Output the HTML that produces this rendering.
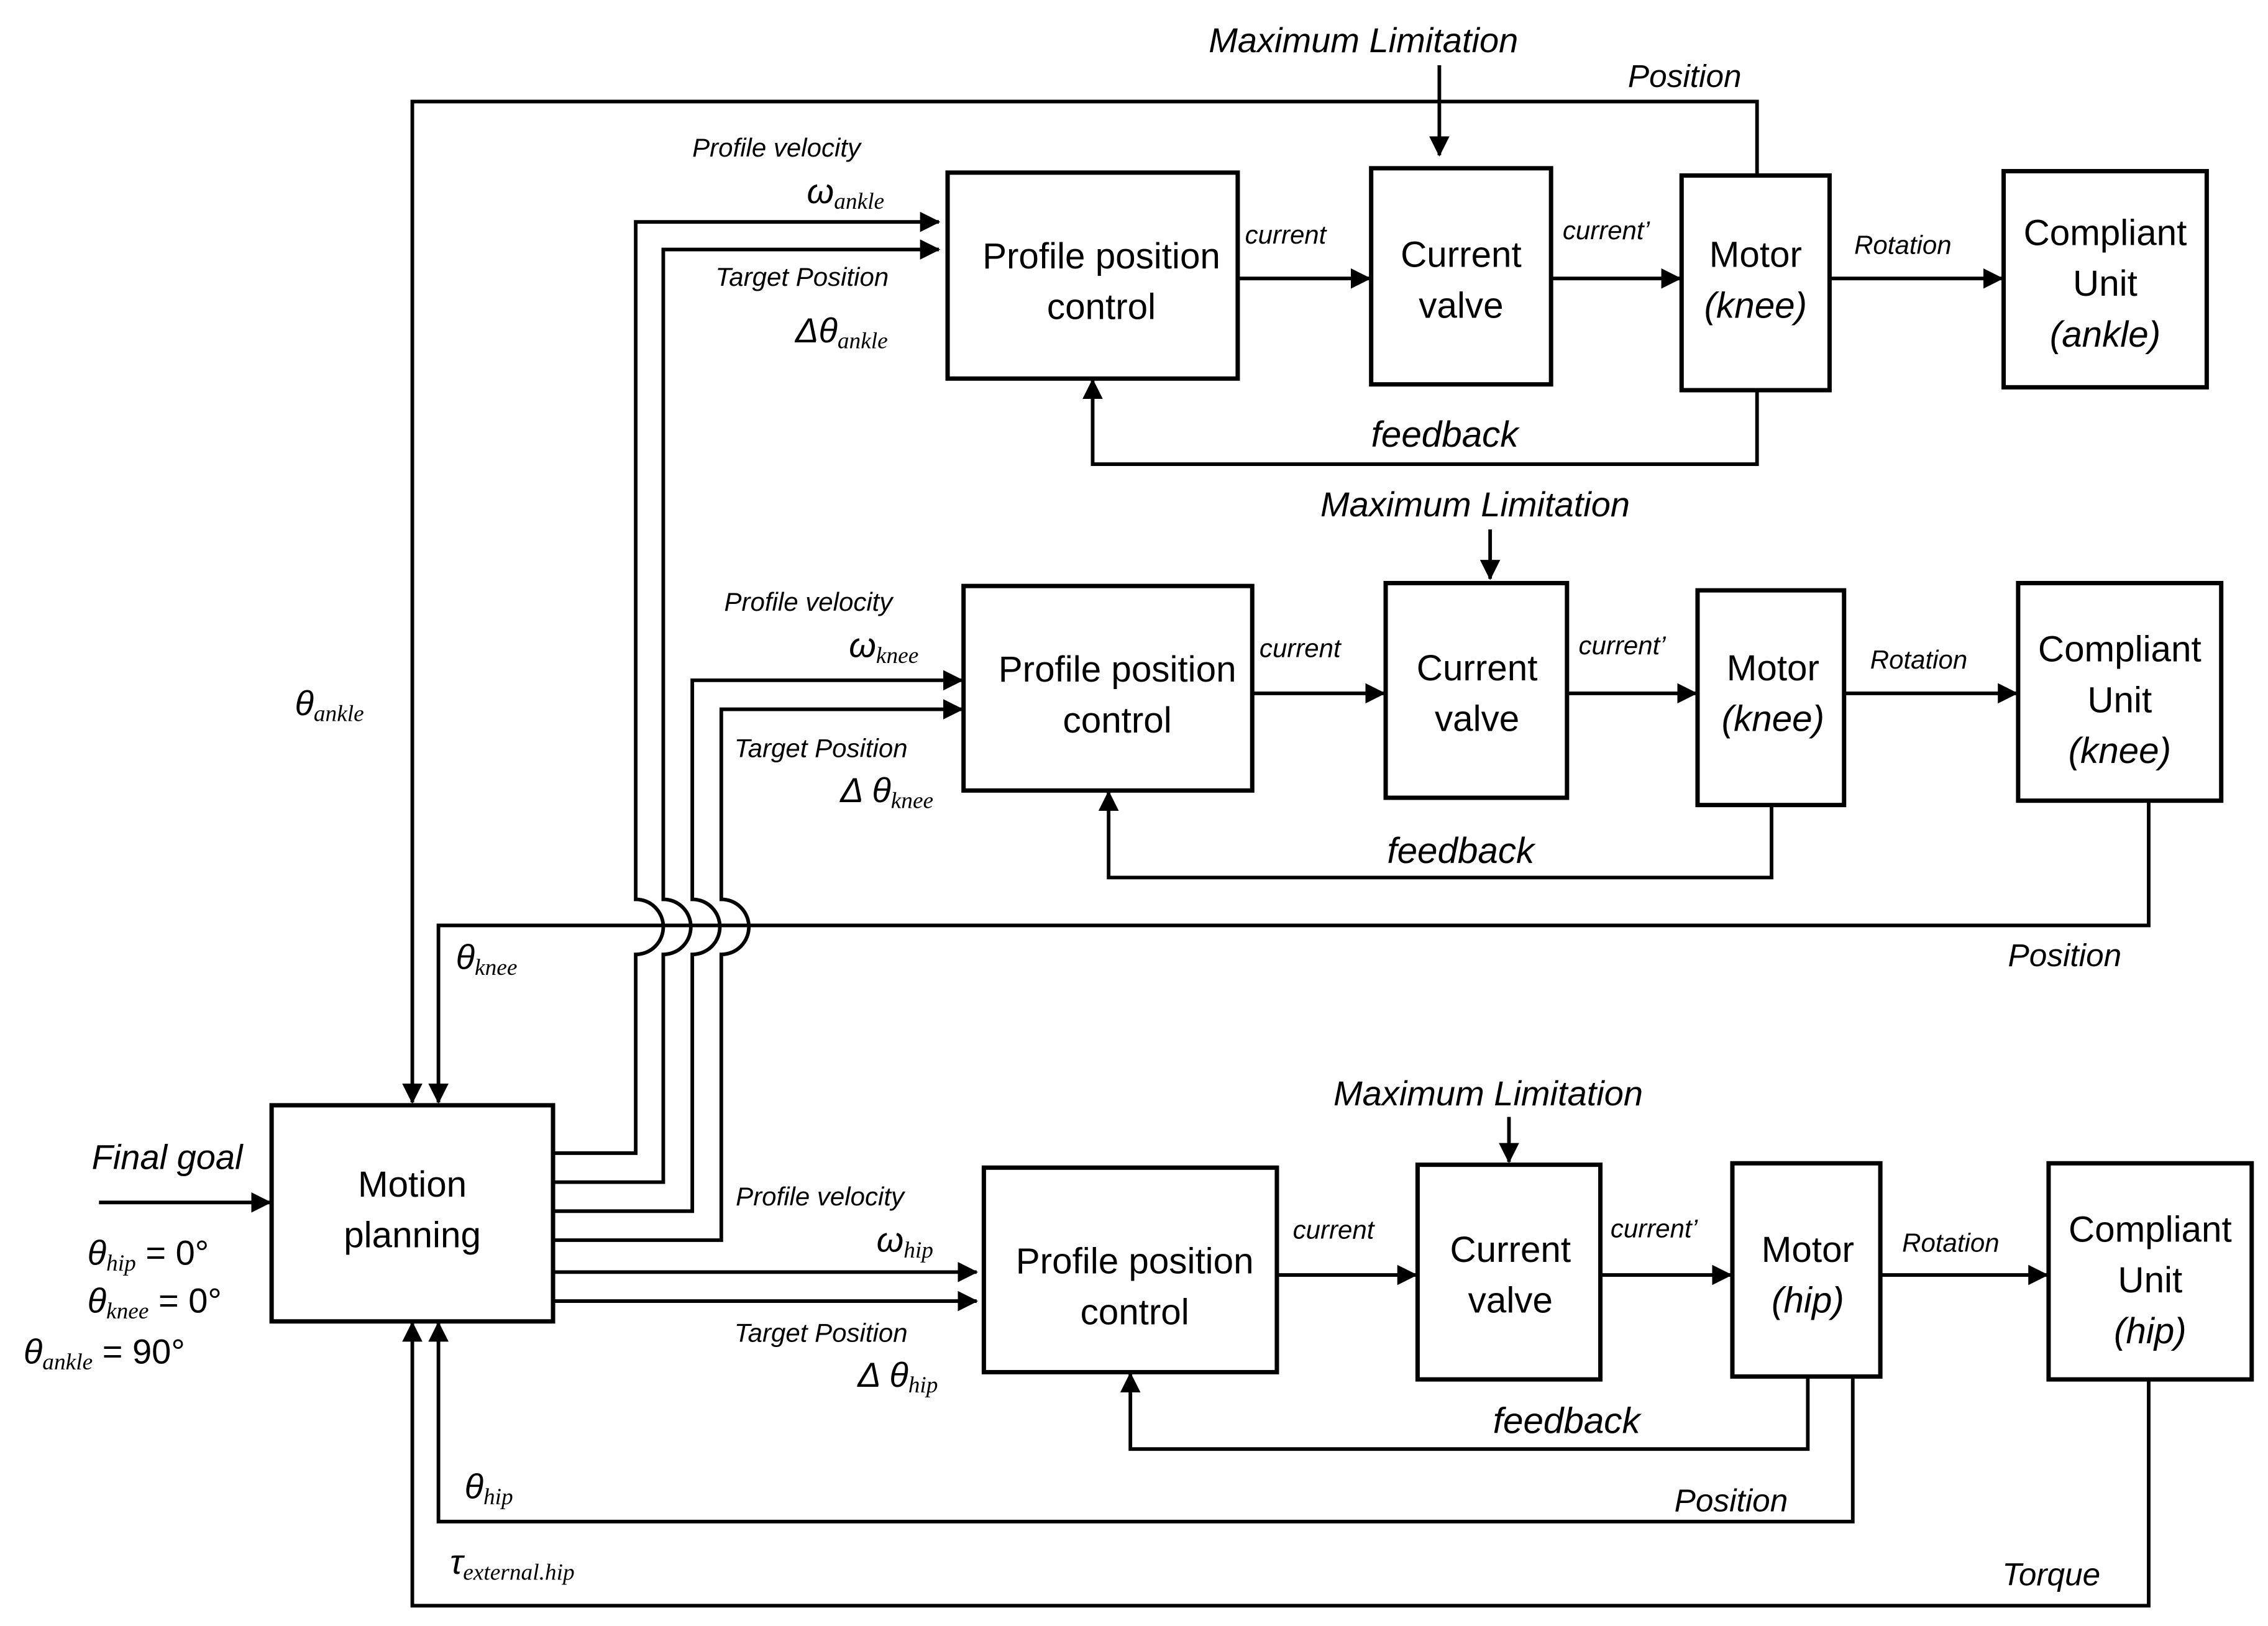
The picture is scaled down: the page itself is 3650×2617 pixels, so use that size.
<!DOCTYPE html>
<html><head><meta charset="utf-8"><style>
html,body{margin:0;padding:0;background:#fff;}
svg{display:block;}
text{font-family:"Liberation Sans",sans-serif;fill:#000;}
.b{font-size:25px;}
.i{font-style:italic;font-size:22px;}
.s{font-style:italic;font-size:18px;}
.m{font-family:"Liberation Serif",serif;font-style:italic;font-size:24px;}
.ms{font-family:"Liberation Serif",serif;font-style:italic;font-size:16px;}
</style></head><body>
<svg width="3650" height="2617" viewBox="0 0 1563 1121" xmlns="http://www.w3.org/2000/svg">
<defs><marker id="ab" markerWidth="14" markerHeight="14" refX="13" refY="7" orient="auto" markerUnits="userSpaceOnUse"><path d="M0,0 L14,7 L0,14 z" fill="#000"/></marker></defs>
<g fill="none" stroke="#000" stroke-width="3">
<rect x="653" y="119" width="200" height="142"/>
<rect x="945" y="116" width="124" height="149"/>
<rect x="1159" y="121" width="102" height="148"/>
<rect x="1381" y="118" width="140" height="149"/>
<rect x="664" y="404" width="199" height="141"/>
<rect x="955" y="402" width="125" height="148"/>
<rect x="1170" y="407" width="101" height="148"/>
<rect x="1391" y="402" width="140" height="150"/>
<rect x="187" y="762" width="194" height="149"/>
<rect x="678" y="805" width="202" height="141"/>
<rect x="977" y="803" width="126" height="148"/>
<rect x="1194" y="802" width="102" height="147"/>
<rect x="1412" y="802" width="140" height="149"/>
</g>
<g fill="none" stroke="#000" stroke-width="2.5">
<path d="M992,45 V107" marker-end="url(#ab)"/>
<path d="M853,192 H944" marker-end="url(#ab)"/>
<path d="M1069,192 H1158" marker-end="url(#ab)"/>
<path d="M1261,192 H1380" marker-end="url(#ab)"/>
<path d="M1211,121 V70 H284 V760" marker-end="url(#ab)"/>
<path d="M1211,269 V320 H753 V262" marker-end="url(#ab)"/>
<path d="M1027,365 V399" marker-end="url(#ab)"/>
<path d="M863,478 H954" marker-end="url(#ab)"/>
<path d="M1080,478 H1169" marker-end="url(#ab)"/>
<path d="M1271,478 H1390" marker-end="url(#ab)"/>
<path d="M1221,555 V605 H764 V546" marker-end="url(#ab)"/>
<path d="M1481,552 V638 H302 V760" marker-end="url(#ab)"/>
<path d="M381,795 H438 V658 A19,19 0 0 0 438,620 V153 H647" marker-end="url(#ab)"/>
<path d="M381,815 H457 V658 A19,19 0 0 0 457,620 V172 H647" marker-end="url(#ab)"/>
<path d="M381,835 H477 V658 A19,19 0 0 0 477,620 V469 H663" marker-end="url(#ab)"/>
<path d="M381,855 H497 V658 A19,19 0 0 0 497,620 V489 H663" marker-end="url(#ab)"/>
<path d="M381,877 H673" marker-end="url(#ab)"/>
<path d="M381,897 H673" marker-end="url(#ab)"/>
<path d="M1040,770 V801" marker-end="url(#ab)"/>
<path d="M880,879 H976" marker-end="url(#ab)"/>
<path d="M1103,879 H1193" marker-end="url(#ab)"/>
<path d="M1296,879 H1411" marker-end="url(#ab)"/>
<path d="M1246,949 V999 H779 V947" marker-end="url(#ab)"/>
<path d="M1277,949 V1049 H302 V912" marker-end="url(#ab)"/>
<path d="M1481,951 V1107 H284 V912" marker-end="url(#ab)"/>
<path d="M68,829 H186" marker-end="url(#ab)"/>
</g>
<g class="b" text-anchor="middle">
<text x="759" y="185">Profile position</text><text x="759" y="220">control</text>
<text x="1007" y="184">Current</text><text x="1007" y="219">valve</text>
<text x="1210" y="184">Motor</text><text x="1210" y="219" font-style="italic">(knee)</text>
<text x="1451" y="169">Compliant</text><text x="1451" y="204">Unit</text><text x="1451" y="239" font-style="italic">(ankle)</text>
<text x="770" y="470">Profile position</text><text x="770" y="505">control</text>
<text x="1018" y="469">Current</text><text x="1018" y="504">valve</text>
<text x="1222" y="469">Motor</text><text x="1222" y="504" font-style="italic">(knee)</text>
<text x="1461" y="456">Compliant</text><text x="1461" y="491">Unit</text><text x="1461" y="526" font-style="italic">(knee)</text>
<text x="284" y="825">Motion</text><text x="284" y="860">planning</text>
<text x="782" y="878">Profile position</text><text x="782" y="913">control</text>
<text x="1041" y="870">Current</text><text x="1041" y="905">valve</text>
<text x="1246" y="870">Motor</text><text x="1246" y="905" font-style="italic">(hip)</text>
<text x="1482" y="856">Compliant</text><text x="1482" y="891">Unit</text><text x="1482" y="926" font-style="italic">(hip)</text>
</g>
<g class="i">
<text x="833" y="36" font-size="24">Maximum Limitation</text>
<text x="910" y="356" font-size="24">Maximum Limitation</text>
<text x="919" y="762" font-size="24">Maximum Limitation</text>
<text x="1122" y="60">Position</text>
<text x="1384" y="666">Position</text>
<text x="1154" y="1042">Position</text>
<text x="1380" y="1093">Torque</text>
<text x="945" y="308" font-size="25">feedback</text>
<text x="956" y="595" font-size="25">feedback</text>
<text x="1029" y="988" font-size="25">feedback</text>
<text x="63" y="806" font-size="24">Final goal</text>
</g>
<g class="s">
<text x="477" y="108">Profile velocity</text>
<text x="493" y="197">Target Position</text>
<text x="499" y="421">Profile velocity</text>
<text x="506" y="522">Target Position</text>
<text x="507" y="831">Profile velocity</text>
<text x="506" y="925">Target Position</text>
<text x="858" y="168">current</text><text x="1077" y="165">current’</text><text x="1278" y="175">Rotation</text>
<text x="868" y="453">current</text><text x="1088" y="451">current’</text><text x="1289" y="461">Rotation</text>
<text x="891" y="854">current</text><text x="1110" y="853">current’</text><text x="1311" y="863">Rotation</text>
</g>
<g class="m">
<text x="556" y="140">ω<tspan class="ms" dy="4">ankle</tspan></text>
<text x="548" y="236">Δθ<tspan class="ms" dy="4">ankle</tspan></text>
<text x="585" y="453">ω<tspan class="ms" dy="4">knee</tspan></text>
<text x="579" y="553">Δ θ<tspan class="ms" dy="4">knee</tspan></text>
<text x="604" y="863">ω<tspan class="ms" dy="4">hip</tspan></text>
<text x="591" y="956">Δ θ<tspan class="ms" dy="4">hip</tspan></text>
<text x="203" y="493">θ<tspan class="ms" dy="4">ankle</tspan></text>
<text x="314" y="668">θ<tspan class="ms" dy="4">knee</tspan></text>
<text x="320" y="1033">θ<tspan class="ms" dy="4">hip</tspan></text>
<text x="310" y="1085">τ<tspan class="ms" dy="4">external.hip</tspan></text>
<text x="60" y="872">θ<tspan class="ms" dy="4">hip</tspan><tspan dy="-4" font-style="normal"> = 0°</tspan></text>
<text x="60" y="905">θ<tspan class="ms" dy="4">knee</tspan><tspan dy="-4" font-style="normal"> = 0°</tspan></text>
<text x="16" y="940">θ<tspan class="ms" dy="4">ankle</tspan><tspan dy="-4" font-style="normal"> = 90°</tspan></text>
</g>
</svg>
</body></html>
